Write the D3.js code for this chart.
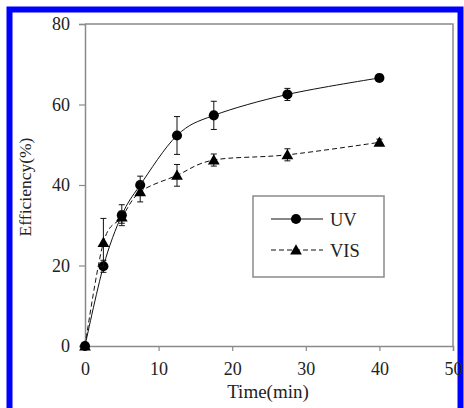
<!DOCTYPE html>
<html>
<head>
<meta charset="utf-8">
<script src="https://cdn.jsdelivr.net/npm/d3@7"></script>
<style>
  body { margin: 0; background: #fff; }
  text { font-family: "Liberation Serif", "Times New Roman", serif; fill: #222; }
</style>
</head>
<body>
<svg id="svg1" width="464" height="408"></svg>
<script>
// data
var times = [0, 2.5, 5, 7.5, 12.5, 17.5, 27.5, 40];
var uvValues = [0, 19.8, 32.5, 40, 52.3, 57.3, 62.5, 66.6];
var uvErrors = [0, 1.5, 2.6, 2.2, 4.7, 3.5, 1.5, 0];
var visValues = [0, 25.7, 32, 38.3, 42.4, 46.2, 47.5, 50.6];
var visErrors = [0, 6, 1.5, 2.5, 2.7, 1.5, 1.5, 0.8];
var xTicks = [0, 10, 20, 30, 40, 50];
var yTicks = [0, 20, 40, 60, 80];

var svg = d3.select("#svg1"),
    margin = {top: 24, right: 11, bottom: 62, left: 85},
    width = +svg.attr("width") - margin.left - margin.right,
    height = +svg.attr("height") - margin.top - margin.bottom;

// blue frame around the picture
svg.append("path")
    .attr("d", "M9.5,408 V9.5 H460.5 V408")
    .attr("fill", "none")
    .attr("stroke", "#0000ff")
    .attr("stroke-width", 6);

var g = svg.append("g").attr("transform", "translate(" + margin.left + "," + margin.top + ")");

var x = d3.scaleLinear().domain([0, 50]).range([0, width]);
var y = d3.scaleLinear().domain([0, 80]).range([height, 0]);

var grey = "#8a8a8a";

// box top/right
g.append("path")
    .attr("d", "M0,0 H" + width + " V" + height)
    .attr("fill", "none").attr("stroke", grey).attr("stroke-width", 1.5);

var xAxis = g.append("g")
    .attr("transform", "translate(0," + height + ")")
    .call(d3.axisBottom(x).tickValues(xTicks).tickSizeOuter(0).tickSize(5).tickPadding(11));
var yAxis = g.append("g")
    .call(d3.axisLeft(y).tickValues(yTicks).tickSizeOuter(0).tickSize(6).tickPadding(9));

[xAxis, yAxis].forEach(function(a) {
  a.select(".domain").attr("stroke", grey).attr("stroke-width", 1.5);
  a.selectAll(".tick line").attr("stroke", grey).attr("stroke-width", 1.2);
  a.selectAll(".tick text")
    .style("font-family", "'Liberation Serif', serif")
    .style("font-size", "18px").attr("fill", "#222");
});

var series = [
  {name: "UV", values: uvValues, errors: uvErrors, dash: null, marker: "circle"},
  {name: "VIS", values: visValues, errors: visErrors, dash: "5,3", marker: "triangle"}
];

var line = d3.line()
    .x(function(d) { return x(d[0]); })
    .y(function(d) { return y(d[1]); })
    .curve(d3.curveCatmullRom.alpha(0));

var triangle = d3.symbol().type(d3.symbolTriangle).size(60);
var circle = d3.symbol().type(d3.symbolCircle).size(80);

series.forEach(function(s) {
  var pts = times.map(function(t, i) { return [t, s.values[i], s.errors[i]]; });

  g.append("path")
      .datum(pts)
      .attr("d", line)
      .attr("fill", "none")
      .attr("stroke", "#111")
      .attr("stroke-width", 1)
      .attr("stroke-dasharray", s.dash);

  var eb = g.selectAll(".eb-" + s.name)
      .data(pts.filter(function(d) { return d[2] > 0; }))
    .enter().append("g").attr("class", "eb-" + s.name)
      .attr("stroke", "#111").attr("stroke-width", 1);
  eb.append("line")
      .attr("x1", function(d) { return x(d[0]); })
      .attr("x2", function(d) { return x(d[0]); })
      .attr("y1", function(d) { return y(d[1] - d[2]); })
      .attr("y2", function(d) { return y(d[1] + d[2]); });
  eb.append("line")
      .attr("x1", function(d) { return x(d[0]) - 3; })
      .attr("x2", function(d) { return x(d[0]) + 3; })
      .attr("y1", function(d) { return y(d[1] + d[2]); })
      .attr("y2", function(d) { return y(d[1] + d[2]); });
  eb.append("line")
      .attr("x1", function(d) { return x(d[0]) - 3; })
      .attr("x2", function(d) { return x(d[0]) + 3; })
      .attr("y1", function(d) { return y(d[1] - d[2]); })
      .attr("y2", function(d) { return y(d[1] - d[2]); });

  g.selectAll(".pt-" + s.name)
      .data(pts)
    .enter().append("path")
      .attr("class", "pt-" + s.name)
      .attr("transform", function(d) {
        return "translate(" + x(d[0]) + "," + (y(d[1]) + (s.marker === "triangle" ? 1 : 0)) + ")";
      })
      .attr("d", s.marker === "triangle" ? triangle : circle)
      .attr("fill", "#000");
});

// legend
var leg = svg.append("g");
leg.append("rect")
    .attr("x", 253).attr("y", 196).attr("width", 131).attr("height", 81)
    .attr("fill", "#fff").attr("stroke", grey).attr("stroke-width", 1.5);
series.forEach(function(s, i) {
  var ly = 219 + i * 31;
  leg.append("line")
      .attr("x1", 271).attr("x2", 323).attr("y1", ly).attr("y2", ly)
      .attr("stroke", "#111").attr("stroke-width", 1)
      .attr("stroke-dasharray", s.dash);
  leg.append("path")
      .attr("transform", "translate(296," + (ly + (s.marker === "triangle" ? 1 : 0)) + ")")
      .attr("d", s.marker === "triangle" ? triangle : circle)
      .attr("fill", "#000");
  leg.append("text")
      .attr("x", 330).attr("y", ly + 6.5)
      .style("font-size", "18.5px")
      .text(s.name);
});

// axis titles
svg.append("text")
    .attr("x", 268).attr("y", 398)
    .attr("text-anchor", "middle")
    .style("font-size", "19px")
    .text("Time(min)");

svg.append("text")
    .attr("transform", "translate(31,187) rotate(-90)")
    .attr("text-anchor", "middle")
    .style("font-size", "17.5px")
    .text("Efficiency(%)");
</script>
</body>
</html>
